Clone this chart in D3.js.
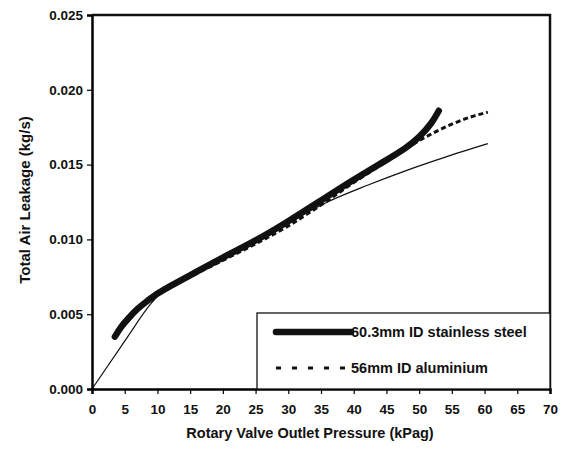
<!DOCTYPE html>
<html>
<head>
<meta charset="utf-8">
<script src="https://cdn.jsdelivr.net/npm/d3@7"></script>
<style>
  body { margin: 0; background: #fff; }
  svg text { font-family: "Liberation Sans", Arial, sans-serif; font-weight: bold; fill: #111; }
</style>
</head>
<body>
<svg id="chart" width="563" height="455"></svg>
<script>
// pressure (kPag) vs total air leakage (kg/s)
const steelX = [3.5, 4.5, 5.5, 7, 8.5, 10, 12, 15, 20, 25, 30, 35, 40, 45, 48, 50, 52, 53]
const steelY = [0.0035, 0.0042, 0.0047, 0.0054, 0.0059, 0.0064, 0.0069, 0.0076, 0.0088, 0.0099, 0.0112, 0.0126, 0.0140, 0.0153, 0.0161, 0.0168, 0.0178, 0.0186]

const aluX = [8, 10, 12, 15, 20, 25, 30, 35, 40, 45, 50, 55, 58, 60.5]
const aluY = [0.0058, 0.0063, 0.0068, 0.0075, 0.0086, 0.0097, 0.0109, 0.0123, 0.0138, 0.0152, 0.0166, 0.0177, 0.0182, 0.0185]

const thinX = [0, 5, 9, 10, 11, 15, 20, 25, 30, 36, 42, 48, 54, 60.5]
const thinY = [0, 0.0032, 0.0057, 0.0062, 0.0066, 0.0075, 0.0087, 0.0099, 0.0111, 0.0125, 0.0136, 0.0146, 0.0155, 0.0164]

const xTicks = d3.range(0, 71, 5)
const yTicks = [0, 0.005, 0.010, 0.015, 0.020, 0.025]

const legendLabels = ["60.3mm ID stainless steel", "56mm ID aluminium"]

const svg = d3.select("#chart")
const L = 92, R = 550, T = 15, B = 389

const x = d3.scaleLinear().domain([0, 70]).range([L, R])
const y = d3.scaleLinear().domain([0, 0.025]).range([B, T])

// axes
svg.append("g")
  .attr("transform", `translate(0,${B})`)
  .call(d3.axisBottom(x).tickValues(xTicks).tickSize(5).tickPadding(10).tickFormat(d3.format("d")))
  .call(g => g.select(".domain").attr("stroke-width", 2.5))
  .call(g => g.selectAll(".tick line").attr("stroke-width", 1.2))
  .call(g => g.selectAll("text").attr("font-size", 13.5))

svg.append("g")
  .attr("transform", `translate(${L},0)`)
  .call(d3.axisLeft(y).tickValues(yTicks).tickSize(5).tickPadding(4).tickFormat(d3.format(".3f")))
  .call(g => g.select(".domain").attr("stroke-width", 2.5))
  .call(g => g.selectAll(".tick line").attr("stroke-width", 1.2))
  .call(g => g.selectAll("text").attr("font-size", 13.5))

// top and right frame
svg.append("path")
  .attr("d", `M${L},${T}H${R}V${B}`)
  .attr("fill", "none").attr("stroke", "#111").attr("stroke-width", 2.5)

// titles
svg.append("text")
  .attr("x", 310).attr("y", 438)
  .attr("text-anchor", "middle").attr("font-size", 14.5)
  .text("Rotary Valve Outlet Pressure (kPag)")

svg.append("text")
  .attr("transform", `translate(30,200) rotate(-90)`)
  .attr("text-anchor", "middle").attr("font-size", 15)
  .text("Total Air Leakage (kg/s)")

const line = d3.line().x(d => x(d[0])).y(d => y(d[1])).curve(d3.curveMonotoneX)

svg.append("path")
  .datum(d3.zip(thinX, thinY))
  .attr("d", line)
  .attr("fill", "none").attr("stroke", "#111").attr("stroke-width", 1.2)

svg.append("path")
  .datum(d3.zip(aluX, aluY))
  .attr("d", line)
  .attr("fill", "none").attr("stroke", "#111").attr("stroke-width", 3)
  .attr("stroke-dasharray", "5,3")

svg.append("path")
  .datum(d3.zip(steelX, steelY))
  .attr("d", d3.line().x(d => x(d[0])).y(d => y(d[1])).curve(d3.curveBasis))
  .attr("fill", "none").attr("stroke", "#111").attr("stroke-width", 6.5)
  .attr("stroke-linecap", "round")

// legend
const lg = svg.append("g")
lg.append("rect")
  .attr("x", 257).attr("y", 313).attr("width", R - 257).attr("height", B - 313)
  .attr("fill", "#fff").attr("stroke", "#111").attr("stroke-width", 1.3)

lg.append("line")
  .attr("x1", 276).attr("x2", 351).attr("y1", 332).attr("y2", 332)
  .attr("stroke", "#111").attr("stroke-width", 6.5).attr("stroke-linecap", "round")
lg.append("line")
  .attr("x1", 276).attr("x2", 346).attr("y1", 368).attr("y2", 368)
  .attr("stroke", "#111").attr("stroke-width", 3).attr("stroke-dasharray", "5,11")

lg.selectAll("text.lbl")
  .data(legendLabels).enter().append("text")
  .attr("class", "lbl")
  .attr("x", 351).attr("y", (d, i) => 337 + i * 36)
  .attr("font-size", 14.5)
  .text(d => d)
</script>
</body>
</html>
